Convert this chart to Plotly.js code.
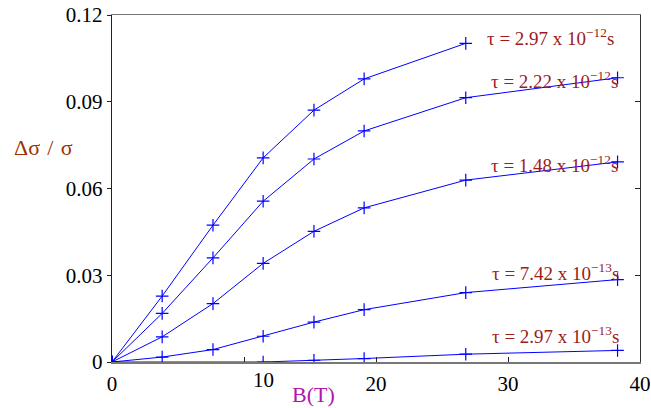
<!DOCTYPE html>
<html>
<head>
<meta charset="utf-8">
<script src="https://cdn.plot.ly/plotly-3.0.1.min.js"></script>
<style>html,body{margin:0;padding:0;background:#fff;}#chart{width:651px;height:408px;}</style>
</head>
<body>
<div id="chart"></div>
<script>
// Magnetic field B (T)
const B_full = [0, 3.8, 7.65, 11.45, 15.3, 19.1, 26.8, 38.3];
const B_top = [0, 3.8, 7.65, 11.45, 15.3, 19.1, 26.8];
const B_low = [0, 11.45, 15.3, 19.1, 26.8, 38.3];

// Δσ/σ values per relaxation time
const tau297e12 = [0, 0.0228, 0.0473, 0.0706, 0.0871, 0.0979, 0.1102];
const tau222e12 = [0, 0.0168, 0.0360, 0.0556, 0.0702, 0.0799, 0.0914, 0.0983];
const tau148e12 = [0, 0.0087, 0.0202, 0.0341, 0.0452, 0.0533, 0.0629, 0.0692];
const tau742e13 = [0, 0.0017, 0.0043, 0.0089, 0.0138, 0.0181, 0.0240, 0.0285];
const tau297e13 = [0, 0.0000, 0.0006, 0.0012, 0.0027, 0.0040];

const seriesLabels = [
  'τ = 2.97 x 10<sup>−12</sup>s',
  'τ = 2.22 x 10<sup>−12</sup>s',
  'τ = 1.48 x 10<sup>−12</sup>s',
  'τ = 7.42 x 10<sup>−13</sup>s',
  'τ = 2.97 x 10<sup>−13</sup>s'
];

const xTickVals = [0, 10, 20, 30, 40];
const xTickText = ['0', '', '20', '30', '40'];
const yTickVals = [0, 0.03, 0.06, 0.09, 0.12];
const yTickText = ['0', '0.03', '0.06', '0.09', '0.12'];

const SERIF = 'Liberation Serif';
const blue = '#0000ff';
function tr(x, y) {
  return {
    x: x, y: y, type: 'scatter', mode: 'lines+markers',
    line: {color: blue, width: 1},
    marker: {symbol: 'cross-thin', size: 9, color: blue, line: {color: blue, width: 1.2}},
    showlegend: false, hoverinfo: 'skip'
  };
}
const data = [
  tr(B_top, tau297e12),
  tr(B_full, tau222e12),
  tr(B_full, tau148e12),
  tr(B_full, tau742e13),
  tr(B_low, tau297e13),
  {x: [0, 40], y: [0, 0.12], yaxis: 'y2', type: 'scatter', mode: 'none', showlegend: false, hoverinfo: 'skip'}
];

const labelPos = [[28.26, 0.1123], [28.56, 0.0974], [28.56, 0.0684], [28.64, 0.0310], [28.64, 0.0092]];
const labelColor = '#9b1c1c';
const annotations = seriesLabels.map((t, i) => ({
  text: t, x: labelPos[i][0], y: labelPos[i][1], xref: 'x', yref: 'y',
  xanchor: 'left', yanchor: 'middle', showarrow: false,
  font: {family: SERIF, size: 19, color: labelColor}
}));
annotations.push({
  text: 'Δσ\u2004/\u2004σ', x: -0.19, y: 0.0742, xref: 'paper', yref: 'y',
  xanchor: 'left', yanchor: 'middle', showarrow: false,
  font: {family: SERIF, size: 22, color: '#993300'}
});
annotations.push({
  text: 'B(T)', x: 15.3, y: -0.093, xref: 'x', yref: 'paper',
  xanchor: 'center', yanchor: 'middle', showarrow: false,
  font: {family: SERIF, size: 22, color: '#b015b0'}
});
annotations.push({
  text: '10', x: 11.44, y: -0.053, xref: 'x', yref: 'paper',
  xanchor: 'center', yanchor: 'middle', showarrow: false,
  font: {family: SERIF, size: 21, color: '#000'}
});

const layout = {
  width: 651, height: 408,
  margin: {l: 112, r: 11, t: 15, b: 46},
  paper_bgcolor: '#fff', plot_bgcolor: '#fff',
  showlegend: false,
  font: {family: SERIF},
  xaxis: {
    range: [0, 40], tickvals: xTickVals, ticktext: xTickText,
    ticks: 'inside', ticklen: 5, tickcolor: '#222', tickwidth: 1,
    showline: true, linecolor: '#777', linewidth: 1.5, mirror: true,
    showgrid: false, zeroline: false,
    tickfont: {family: SERIF, size: 21, color: '#000'},
    ticklabelstandoff: 2
  },
  yaxis: {
    range: [0, 0.12], tickvals: yTickVals, ticktext: yTickText,
    ticks: 'outside', ticklen: 4, tickcolor: '#222', tickwidth: 1,
    showline: true, linecolor: '#222', linewidth: 1.2,
    showgrid: false, zeroline: false,
    tickfont: {family: SERIF, size: 21, color: '#000'}
  },
  yaxis2: {
    range: [0, 0.12], overlaying: 'y', side: 'right', tickvals: yTickVals,
    ticks: 'inside', ticklen: 5, tickcolor: '#222', showticklabels: false,
    showline: true, linecolor: '#333', linewidth: 1.2, showgrid: false, zeroline: false
  },
  annotations: annotations
};

Plotly.newPlot('chart', data, layout, {displayModeBar: false, staticPlot: true});
</script>
</body>
</html>
